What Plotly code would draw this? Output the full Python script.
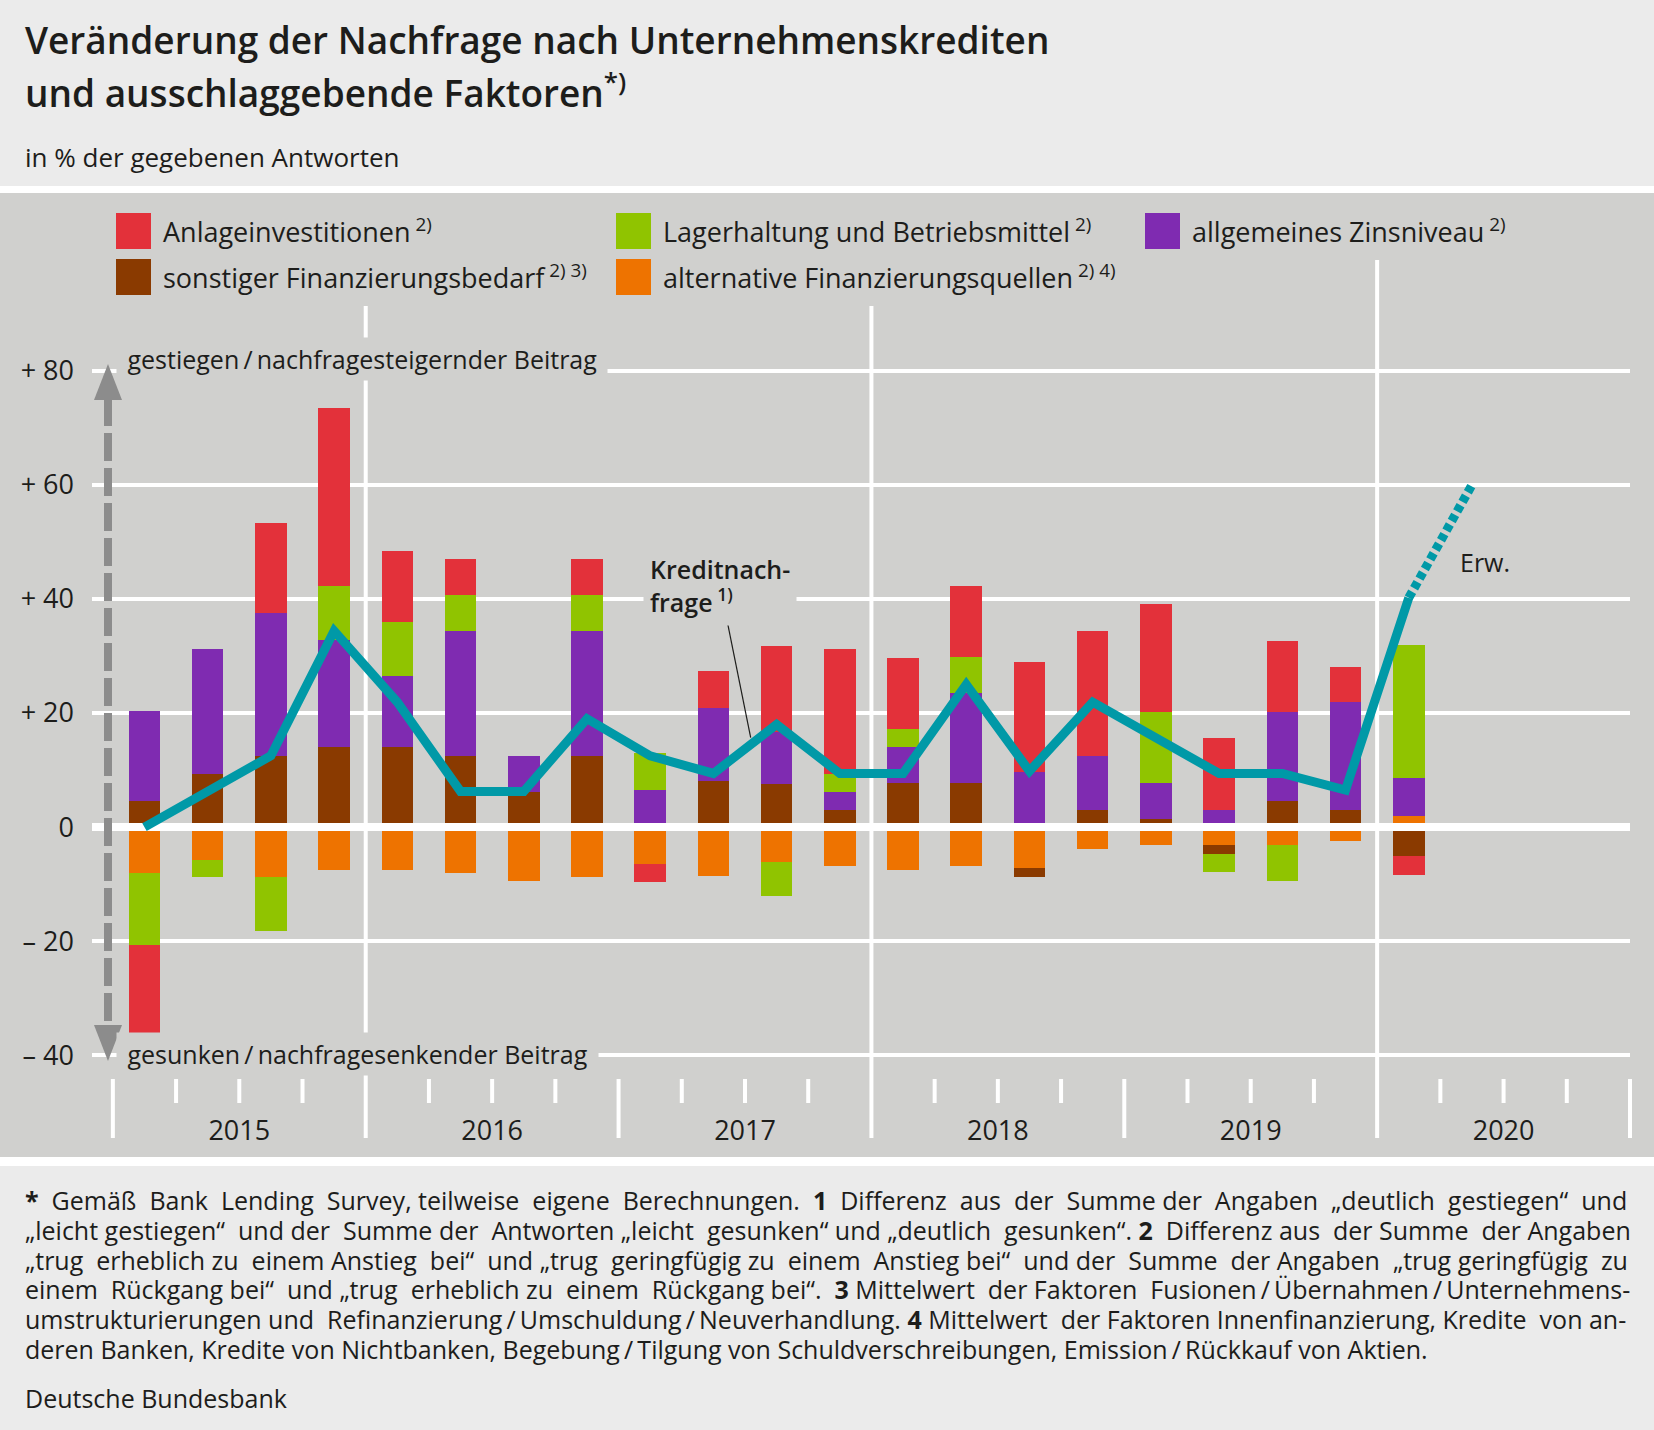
import plotly.graph_objects as go

# ---------------- data ----------------
quarters = ["2015Q1", "2015Q2", "2015Q3", "2015Q4",
            "2016Q1", "2016Q2", "2016Q3", "2016Q4",
            "2017Q1", "2017Q2", "2017Q3", "2017Q4",
            "2018Q1", "2018Q2", "2018Q3", "2018Q4",
            "2019Q1", "2019Q2", "2019Q3", "2019Q4",
            "2020Q1"]
years = ["2015", "2016", "2017", "2018", "2019", "2020"]

anlageinvestitionen = [-15.7, 0, 15.7, 31.3, 12.5, 6.3, 0, 6.3, -3.1, 6.4, 15.0, 21.8,
                       12.5, 12.5, 19.4, 21.9, 18.8, 12.5, 12.5, 6.3, -3.4]
lagerhaltung = [-12.6, -3.1, -9.4, 9.4, 9.4, 6.3, 0, 6.3, 6.4, 0, -6.0, 3.2,
                3.2, 6.3, 0, 0, 12.5, -3.0, -6.2, 0, 23.4]
zinsniveau = [15.8, 21.9, 25.1, 18.8, 12.5, 21.9, 6.25, 21.9, 6.5, 12.8, 9.2, 3.1,
              6.25, 15.7, 9.6, 9.4, 6.25, 3.05, 15.7, 18.8, 6.7]
sonstiger = [4.5, 9.3, 12.45, 14.0, 14.0, 12.45, 6.2, 12.45, 0, 8.1, 7.5, 3.05,
             7.75, 7.75, -1.6, 3.05, 1.5, -1.6, 4.5, 3.05, -5.0]
alternative = [-8.1, -5.7, -8.8, -7.6, -7.6, -8.1, -9.4, -8.8, -6.5, -8.5, -6.1, -6.9,
               -7.6, -6.9, -7.2, -3.8, -3.2, -3.2, -3.2, -2.5, 1.9]
kreditnachfrage = [0, 6.25, 12.5, 34.4, 21.9, 6.25, 6.25, 19.0, 12.5, 9.4, 18.0, 9.4,
                   9.4, 25.0, 9.8, 21.9, 15.6, 9.4, 9.4, 6.5, 40.2]
erwartung_quarter = "2020Q2"
erwartung = 60.0

ytick_vals = [-40, -20, 0, 20, 40, 60, 80]
ytick_text = ["\u2013 40", "\u2013 20", "0", "+ 20", "+ 40", "+ 60", "+ 80"]

# ---------------- geometry ----------------
W, H = 1654, 1430
ML, MR, MT, MB = 92, 24, 368, 372
PW, PH = W - ML - MR, H - MT - MB
X0, X1 = -0.83, 23.5
Y0, Y1 = -40.5, 80.5

xs = list(range(len(quarters)))
x_erw = len(quarters)  # next quarter


def pxx(X):  # pixel -> paper x
    return (X - ML) / PW


def pxy(Y):  # pixel -> paper y
    return (H - MB - Y) / PH


def dx(v):  # data x -> paper x
    return (v - X0) / (X1 - X0)


RED, GREEN, PURPLE, BROWN, ORANGE = "#e3313a", "#90c400", "#7f2bb1", "#8a3a00", "#ee7300"
TEAL = "#0099a7"
PANEL = "#d0d0ce"
LIGHT = "#ebebeb"
TXT = "#1d1d1b"
ARROW = "#8c8c8c"
FONT = "Open Sans"

fig = go.Figure()

# stacking order (relative): orange, brown, purple, green, red
series = [("alternative Finanzierungsquellen", alternative, ORANGE),
          ("sonstiger Finanzierungsbedarf", sonstiger, BROWN),
          ("allgemeines Zinsniveau", zinsniveau, PURPLE),
          ("Lagerhaltung und Betriebsmittel", lagerhaltung, GREEN),
          ("Anlageinvestitionen", anlageinvestitionen, RED)]
for name, vals, col in series:
    fig.add_trace(go.Bar(x=xs, y=vals, name=name, marker=dict(color=col, line=dict(width=0)),
                         width=0.5, showlegend=False, hoverinfo="skip"))

# zero line (above bars)
fig.add_trace(go.Scatter(x=[X0, X1], y=[0, 0], mode="lines",
                         line=dict(color="white", width=8), showlegend=False, hoverinfo="skip",
                         cliponaxis=False))

# Kreditnachfrage
fig.add_trace(go.Scatter(x=xs, y=kreditnachfrage, mode="lines",
                         line=dict(color=TEAL, width=9), showlegend=False, name="Kreditnachfrage"))
fig.add_trace(go.Scatter(x=[xs[-1], x_erw], y=[kreditnachfrage[-1], erwartung], mode="lines",
                         line=dict(color=TEAL, width=9, dash="7px,4px"), showlegend=False,
                         name="Erwartung"))

shapes = []
# backgrounds
shapes.append(dict(type="rect", xref="paper", yref="paper", x0=pxx(0), x1=pxx(W),
                   y0=pxy(186), y1=pxy(193), fillcolor="white", line=dict(width=0), layer="below"))
shapes.append(dict(type="rect", xref="paper", yref="paper", x0=pxx(0), x1=pxx(W),
                   y0=pxy(1157), y1=pxy(193), fillcolor=PANEL, line=dict(width=0), layer="below"))
shapes.append(dict(type="rect", xref="paper", yref="paper", x0=pxx(0), x1=pxx(W),
                   y0=pxy(1166), y1=pxy(1157), fillcolor="white", line=dict(width=0), layer="below"))

# year separators and ticks
n_q = len(years) * 4
for k in range(n_q + 1):
    b = k - 0.5
    if k in (4, 12, 20):
        top = 260 if k == 20 else 306
        shapes.append(dict(type="line", xref="paper", yref="paper", x0=dx(b), x1=dx(b),
                           y0=pxy(1138), y1=pxy(top), line=dict(color="white", width=4),
                           layer="below"))
    elif k % 4 == 0:
        shapes.append(dict(type="line", xref="paper", yref="paper", x0=dx(b), x1=dx(b),
                           y0=pxy(1138), y1=pxy(1079), line=dict(color="white", width=4),
                           layer="below"))
    else:
        shapes.append(dict(type="line", xref="paper", yref="paper", x0=dx(b), x1=dx(b),
                           y0=pxy(1103), y1=pxy(1079), line=dict(color="white", width=4),
                           layer="below"))

# dashed double arrow (shaft + heads)
AX = 108
shapes.append(dict(type="line", xref="paper", yref="paper", x0=pxx(AX), x1=pxx(AX),
                   y0=pxy(398), y1=pxy(1028), line=dict(color=ARROW, width=8, dash="28px,7px"),
                   layer="above"))


def tri(tip_y, base_y):
    return ("M {:.5f},{:.5f} L {:.5f},{:.5f} L {:.5f},{:.5f} Z".format(
        pxx(AX), pxy(tip_y), pxx(AX - 14), pxy(base_y), pxx(AX + 14), pxy(base_y)))


shapes.append(dict(type="path", xref="paper", yref="paper", path=tri(364, 400),
                   fillcolor=ARROW, line=dict(width=0), layer="above"))
shapes.append(dict(type="path", xref="paper", yref="paper", path=tri(1061, 1025),
                   fillcolor=ARROW, line=dict(width=0), layer="above"))

# legend squares
leg = [(116, 213, RED, "Anlageinvestitionen<sup> 2)</sup>"),
       (616, 213, GREEN, "Lagerhaltung und Betriebsmittel<sup> 2)</sup>"),
       (1145, 213, PURPLE, "allgemeines Zinsniveau<sup> 2)</sup>"),
       (116, 259, BROWN, "sonstiger Finanzierungsbedarf<sup> 2) 3)</sup>"),
       (616, 259, ORANGE, "alternative Finanzierungsquellen<sup> 2) 4)</sup>")]
annotations = []
for lx, ly, col, txt in leg:
    shapes.append(dict(type="rect", xref="paper", yref="paper", x0=pxx(lx), x1=pxx(lx + 35),
                       y0=pxy(ly + 36), y1=pxy(ly), fillcolor=col, line=dict(width=0)))
    annotations.append(dict(xref="paper", yref="paper", x=pxx(lx + 45), y=pxy(ly + 17),
                            xanchor="left", yanchor="middle", text=txt, showarrow=False,
                            font=dict(size=27, color=TXT, family=FONT)))

# Kreditnachfrage pointer (leader line)
shapes.append(dict(type="line", xref="x", yref="y", x0=9.225, y0=35.7, x1=9.59, y1=15.7,
                   line=dict(color=TXT, width=1.2)))


def A(x, y, text, size, xanchor="left", yanchor="middle", weight="normal", **kw):
    d = dict(xref="paper", yref="paper", x=pxx(x), y=pxy(y), text=text, showarrow=False,
             xanchor=xanchor, yanchor=yanchor,
             font=dict(size=size, color=TXT, family=FONT, weight=weight))
    d.update(kw)
    return d


def justify(text, extra):
    """spread `extra` non-breaking spaces over the word gaps of a line"""
    parts = text.split(" ")
    gaps = len(parts) - 1
    if extra <= 0 or gaps <= 0:
        return text
    out = parts[0]
    given = 0
    for i in range(1, len(parts)):
        target = round(extra * i / gaps)
        add = target - given
        given = target
        out += " " + "\u00a0" * add + parts[i]
    return out


# titles
annotations.append(A(23, 40, "Veränderung der Nachfrage nach Unternehmenskrediten", 37, weight=600))
annotations.append(A(23, 90, "und ausschlaggebende Faktoren<sup>*)</sup>", 37, weight=600))
annotations.append(A(23, 157, "in % der gegebenen Antworten", 26))

# axis direction labels (with background masking grid)
annotations.append(A(116, 359, "\u00a0gestiegen\u2009/\u2009nachfragesteigernder Beitrag\u00a0", 25,
                     bgcolor=PANEL, borderpad=4))
annotations.append(A(116, 1054, "\u00a0gesunken\u2009/\u2009nachfragesenkender Beitrag\u00a0", 25,
                     bgcolor=PANEL, borderpad=4))

# Kreditnachfrage label
annotations.append(A(643, 585, "Kreditnach-<br>frage<sup> 1)</sup>", 25, weight=600,
                     align="left", bgcolor=PANEL, borderpad=6))
annotations.append(A(1458, 562, "Erw.", 25))

# footnotes
foot = [
    "<b>*</b> Gemäß Bank Lending Survey, teilweise eigene Berechnungen. <b>1</b> Differenz aus der Summe der Angaben \u201edeutlich gestiegen\u201c und",
    "\u201eleicht gestiegen\u201c und der Summe der Antworten \u201eleicht gesunken\u201c und \u201edeutlich gesunken\u201c. <b>2</b> Differenz aus der Summe der Angaben",
    "\u201etrug erheblich zu einem Anstieg bei\u201c und \u201etrug geringfügig zu einem Anstieg bei\u201c und der Summe der Angaben \u201etrug geringfügig zu",
    "einem Rückgang bei\u201c und \u201etrug erheblich zu einem Rückgang bei\u201c. <b>3</b> Mittelwert der Faktoren Fusionen\u2009/\u2009Übernahmen\u2009/\u2009Unternehmens-",
    "umstrukturierungen und Refinanzierung\u2009/\u2009Umschuldung\u2009/\u2009Neuverhandlung. <b>4</b> Mittelwert der Faktoren Innenfinanzierung, Kredite von an-",
    "deren Banken, Kredite von Nichtbanken, Begebung\u2009/\u2009Tilgung von Schuldverschreibungen, Emission\u2009/\u2009Rückkauf von Aktien.",
]
foot_extra = [15, 8, 12, 8, 3, 0]
foot_y = [1200, 1230, 1260, 1289, 1319, 1349]
for t, ex, fy in zip(foot, foot_extra, foot_y):
    annotations.append(A(23, fy, justify(t, ex), 25))
annotations.append(A(23, 1398, "Deutsche Bundesbank", 25))

fig.update_layout(
    width=W, height=H, autosize=False,
    margin=dict(l=ML, r=MR, t=MT, b=MB, pad=0),
    paper_bgcolor=LIGHT, plot_bgcolor="rgba(0,0,0,0)",
    barmode="relative", bargap=0,
    font=dict(family=FONT, color=TXT),
    shapes=shapes, annotations=annotations,
    showlegend=False,
    xaxis=dict(range=[X0, X1], showgrid=False, zeroline=False, showline=False, ticks="",
               tickvals=[1.5 + 4 * i for i in range(len(years))], ticktext=years,
               tickfont=dict(size=27, color=TXT, family=FONT), ticklabelstandoff=54,
               fixedrange=True),
    yaxis=dict(range=[Y0, Y1], tickvals=ytick_vals, ticktext=ytick_text,
               showgrid=True, gridcolor="white", gridwidth=4, zeroline=False, showline=False,
               ticks="", tickfont=dict(size=27, color=TXT, family=FONT), ticklabelstandoff=17,
               fixedrange=True),
)

fig.write_html("out.html", config={"displayModeBar": False},
               post_script="document.body.style.margin='0px';document.body.style.overflow='hidden';")
